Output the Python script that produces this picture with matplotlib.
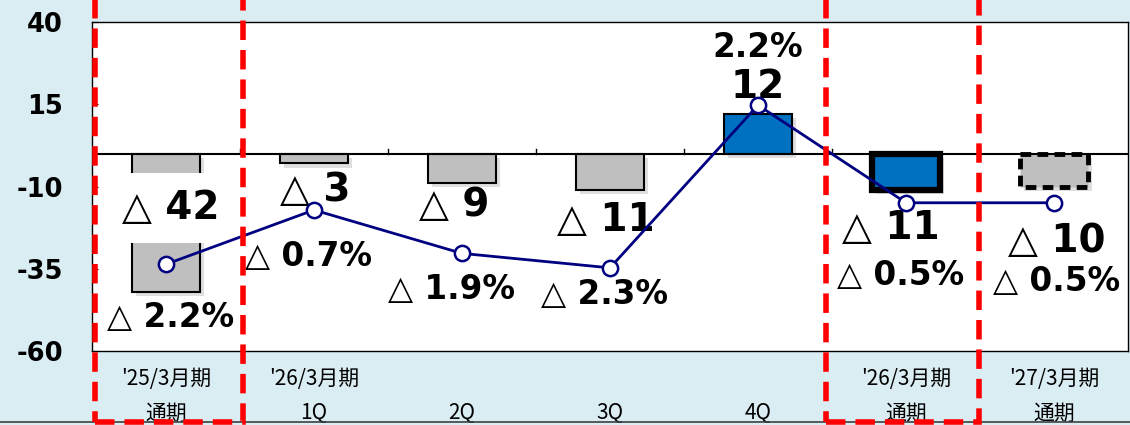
import matplotlib
matplotlib.use("Agg")
import matplotlib.pyplot as plt
from matplotlib.patches import Rectangle
from matplotlib.lines import Line2D
import matplotlib.patheffects as pe

# ---- data ----
period_line1 = ["'25/3月期", "'26/3月期", "", "", "", "'26/3月期", "'27/3月期"]
period_line2 = ["通期", "1Q", "2Q", "3Q", "4Q", "通期", "通期"]
profit = [-42, -3, -9, -11, 12, -11, -10]
margin_pct = [-2.2, -0.7, -1.9, -2.3, 2.2, -0.5, -0.5]
y_ticks = [40, 15, -10, -35, -60]

# ---- layout / style ----
W, H = 1130, 425
BG = "#daedf3"
fig = plt.figure(figsize=(W / 100, H / 100), dpi=100, facecolor=BG)
L, R, T, B = 92, 1128, 22, 351
ax = fig.add_axes([L / W, (H - B) / H, (R - L) / W, (B - T) / H])
ax.set_facecolor("white")
n = len(profit)
x = list(range(n))
ax.set_xlim(-0.5, n - 0.5)
ax.set_ylim(-60, 40)

face = ["#bfbfbf", "#bfbfbf", "#bfbfbf", "#bfbfbf", "#0070c0", "#0070c0", "#bfbfbf"]
lws = [1.5, 1.5, 1.5, 1.5, 1.5, 4.5, 3.5]
lss = ["-", "-", "-", "-", "-", "-", (0, (2.2, 1.3))]
shadow = [pe.SimplePatchShadow(offset=(3, -3), shadow_rgbFace="#8c8c8c", alpha=0.28), pe.Normal()]
for i in x:
    b = ax.bar(i, profit[i], width=0.46, color=face[i], edgecolor="black",
               linewidth=lws[i], linestyle=lss[i], zorder=2)
    b[0].set_path_effects(shadow)

ax.axhline(0, color="black", lw=1.5, zorder=3)
for xb in [i + 0.5 for i in range(n - 1)]:
    ax.plot([xb, xb], [0, 1.5], color="black", lw=1, zorder=3)

for s in ax.spines.values():
    s.set_color("black")
    s.set_linewidth(1)
ax.set_yticks(y_ticks)
ax.set_yticklabels([str(v) for v in y_ticks], fontsize=18.5, fontweight="bold",
                   family="DejaVu Sans")
ax.tick_params(axis="y", direction="in", length=4, pad=21)
for lab in ax.get_yticklabels():
    lab.set_horizontalalignment("right")

ax.set_xticks(x)
ax.set_xticklabels([f"{a}\n{b}" for a, b in zip(period_line1, period_line2)],
                   family=["Noto Sans CJK JP", "DejaVu Sans"], fontsize=15,
                   linespacing=1.75)
ax.tick_params(axis="x", length=0, pad=12)

# value labels
lab_dx = [0.03, 0.01, -0.05, -0.03, 0.0, -0.1, 0.02]
lab_y = [-16.5, -11.1, -15.6, -20.2, 20.2, -22.6, -26.6]
pct_dx = [0.03, -0.04, -0.07, -0.04, 0.0, -0.04, 0.02]
pct_y = [-49.7, -31.4, -41.2, -42.7, 32.1, -36.9, -39.0]

for i in x:
    v = profit[i]
    s = f"△ {abs(v)}" if v < 0 else f"{v}"
    kw = {}
    if i == 0:
        kw["bbox"] = dict(boxstyle="square,pad=0.42", fc="white", ec="none")
    ax.text(i + lab_dx[i], lab_y[i], s, ha="center", va="center", fontsize=28,
            fontweight="bold", family="DejaVu Sans", zorder=4, **kw)
    p = margin_pct[i]
    sp = f"△ {abs(p):.1f}%" if p < 0 else f"{p:.1f}%"
    ax.text(i + pct_dx[i], pct_y[i], sp, ha="center", va="center", fontsize=23.5,
            fontweight="bold", family="DejaVu Sans", zorder=4)

ax2 = ax.twinx()
ax2.set_ylim(-4.6, 4.5)
ax2.axis("off")
ax2.plot(x, margin_pct, color="#000080", lw=2, marker="o", markersize=11,
         markerfacecolor="white", markeredgecolor="#000080", markeredgewidth=1.8,
         zorder=5)

# red dashed boxes
for x0, x1 in [(95, 243), (826, 979)]:
    fig.patches.append(Rectangle((x0 / W, 3 / H), (x1 - x0) / W, 1.1, transform=fig.transFigure,
                                 fill=False, edgecolor="#ff0000", lw=4,
                                 linestyle=(0, (3.5, 1.8)), zorder=10))
fig.lines.append(Line2D([0, 1], [3.5 / H, 3.5 / H], transform=fig.transFigure,
                        color="#404040", lw=1.2, zorder=9))

fig.savefig("out.png", dpi=100, facecolor=BG)
